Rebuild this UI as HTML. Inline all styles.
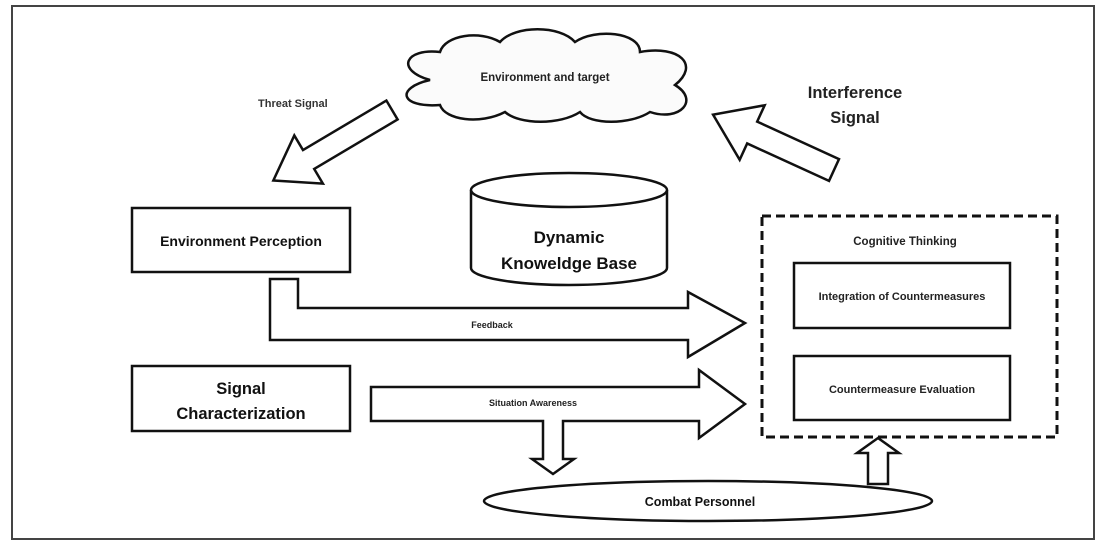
<!DOCTYPE html>
<html><head><meta charset="utf-8"><style>html,body{margin:0;padding:0;background:#fff}svg{display:block}</style></head>
<body>
<svg width="1100" height="546" viewBox="0 0 1100 546" xmlns="http://www.w3.org/2000/svg" font-family="Liberation Sans, sans-serif" font-weight="bold" fill="none" stroke="#111">
<rect x="12" y="6" width="1082" height="533" stroke="#444" stroke-width="2" fill="#fff"/>
<!-- cloud -->
<path d="M430,80 C395,70 405,48 440,52 C445,35 480,30 500,42 C515,25 560,25 575,42 C595,28 640,32 640,52 C680,45 700,65 675,85 C700,100 680,122 650,112 C630,125 590,125 580,112 C560,125 520,125 505,112 C480,125 445,120 440,105 C400,108 395,88 430,80 Z" stroke-width="2.5" fill="#fbfbfb"/>
<text x="545" y="81" font-size="11.5" fill="#222" stroke="none" text-anchor="middle">Environment and target</text>
<text x="258" y="107" font-size="11" fill="#333" stroke="none">Threat Signal</text>
<!-- threat arrow -->
<g transform="translate(392,110) rotate(149.3)"><polygon points="0,-11 97,-11 97,-28 138,0 97,28 97,11 0,11" stroke-width="2.5" fill="#fff"/></g>
<!-- interference arrow -->
<g transform="translate(834,170) rotate(204.6)"><polygon points="0,-12 90,-12 90,-30 133,0 90,30 90,12 0,12" stroke-width="2.5" fill="#fff"/></g>
<text x="855" y="98" font-size="16.5" fill="#222" stroke="none" text-anchor="middle">Interference</text>
<text x="855" y="123" font-size="16.5" fill="#222" stroke="none" text-anchor="middle">Signal</text>
<!-- cylinder -->
<path d="M471,190 L471,268 A98,17 0 0 0 667,268 L667,190" stroke-width="2.5" fill="#fff"/>
<ellipse cx="569" cy="190" rx="98" ry="17" stroke-width="2.5" fill="#fff"/>
<text x="569" y="243" font-size="17" fill="#111" stroke="none" text-anchor="middle">Dynamic</text>
<text x="569" y="269" font-size="17" fill="#111" stroke="none" text-anchor="middle">Knoweldge Base</text>
<!-- env perception -->
<rect x="132" y="208" width="218" height="64" stroke-width="2.5" fill="#fff"/>
<text x="241" y="246" font-size="14" fill="#111" stroke="none" text-anchor="middle">Environment Perception</text>
<!-- feedback arrow -->
<polygon points="270,279 298,279 298,308 688,308 688,292 745,323 688,357 688,340 270,340" stroke-width="2.5" fill="#fff"/>
<text x="492" y="328" font-size="9" fill="#222" stroke="none" text-anchor="middle">Feedback</text>
<!-- signal characterization -->
<rect x="132" y="366" width="218" height="65" stroke-width="2.5" fill="#fff"/>
<text x="241" y="394" font-size="16.5" fill="#111" stroke="none" text-anchor="middle">Signal</text>
<text x="241" y="419" font-size="16.5" fill="#111" stroke="none" text-anchor="middle">Characterization</text>
<!-- situation awareness arrow -->
<polygon points="371,387 699,387 699,370 745,404 699,438 699,421 563,421 563,459 574,459 553,474 532,459 543,459 543,421 371,421" stroke-width="2.5" fill="#fff"/>
<text x="533" y="406" font-size="9" fill="#222" stroke="none" text-anchor="middle">Situation Awareness</text>
<!-- combat personnel -->
<ellipse cx="708" cy="501" rx="224" ry="20" stroke-width="2.5" fill="#fff"/>
<text x="700" y="506" font-size="12.5" fill="#111" stroke="none" text-anchor="middle">Combat Personnel</text>
<!-- up arrow -->
<polygon points="868,484 868,453 857,453 878,438 899,453 888,453 888,484" stroke-width="2.5" fill="#fff"/>
<!-- cognitive thinking -->
<rect x="762" y="216" width="295" height="221" stroke-width="3" stroke-dasharray="9,5"/>
<text x="905" y="245" font-size="11.5" fill="#222" stroke="none" text-anchor="middle">Cognitive Thinking</text>
<rect x="794" y="263" width="216" height="65" stroke-width="2.5" fill="#fff"/>
<text x="902" y="300" font-size="11" fill="#222" stroke="none" text-anchor="middle">Integration of Countermeasures</text>
<rect x="794" y="356" width="216" height="64" stroke-width="2.5" fill="#fff"/>
<text x="902" y="393" font-size="11" fill="#222" stroke="none" text-anchor="middle">Countermeasure Evaluation</text>
</svg>
</body></html>
